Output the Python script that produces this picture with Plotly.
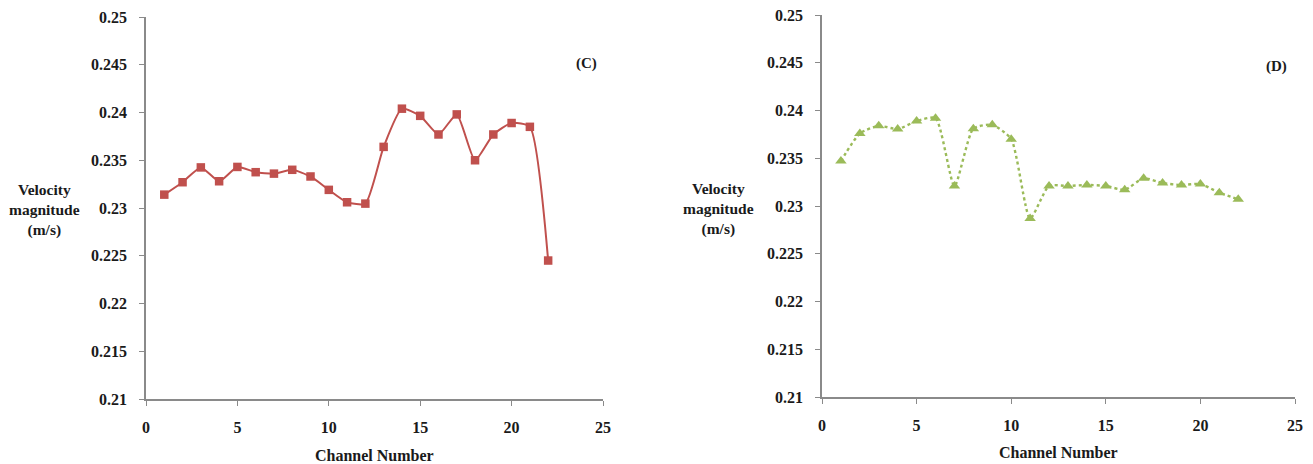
import plotly.graph_objects as go

channels = list(range(1, 23))
velocity_c = [0.2314, 0.2327, 0.23425, 0.2328, 0.2343, 0.23375, 0.2336, 0.2340, 0.2333,
              0.2319, 0.2306, 0.23046, 0.2364, 0.2404, 0.23965, 0.2377, 0.2398, 0.2350,
              0.2377, 0.2389, 0.2385, 0.2245]
velocity_d = [0.2347, 0.2376, 0.2384, 0.23805, 0.2389, 0.2392, 0.2321, 0.2381, 0.2385,
              0.2370, 0.2287, 0.2321, 0.2321, 0.2322, 0.2321, 0.2317, 0.2329, 0.2324,
              0.2322, 0.2323, 0.2314, 0.2307]
y_ticks = [0.21, 0.215, 0.22, 0.225, 0.23, 0.235, 0.24, 0.245, 0.25]
y_tick_labels = ["0.21", "0.215", "0.22", "0.225", "0.23", "0.235", "0.24", "0.245", "0.25"]
x_ticks = [0, 5, 10, 15, 20, 25]

FONT = "Liberation Serif"
TXT = "#1a1a1a"
AX = "#8a8a8a"

fig = go.Figure()
fig.add_trace(go.Scatter(
    x=channels, y=velocity_c, mode="lines+markers", xaxis="x", yaxis="y",
    line=dict(color="#C0504D", width=2, shape="spline", smoothing=0.55),
    marker=dict(symbol="square", size=8.5, color="#C0504D"),
    showlegend=False))
fig.add_trace(go.Scatter(
    x=channels, y=velocity_d, mode="lines+markers", xaxis="x2", yaxis="y2",
    line=dict(color="#9BBB59", width=2.4, dash="dot", shape="spline", smoothing=0.6),
    marker=dict(symbol="triangle-up", size=10, color="#9BBB59"),
    showlegend=False))

tickfont = dict(family=FONT, size=16, color=TXT, weight="bold")

def xax(domain, anchor):
    return dict(domain=domain, anchor=anchor, range=[0, 25], tickvals=x_ticks,
                showgrid=False, zeroline=False, showline=True, linecolor=AX, linewidth=1.6,
                ticks="outside", ticklen=5, tickcolor=AX, tickwidth=1.4,
                tickfont=tickfont, ticklabelstandoff=8, fixedrange=True, automargin=False)

def yax(domain, anchor):
    return dict(domain=domain, anchor=anchor, range=[0.21, 0.25], tickvals=y_ticks,
                ticktext=y_tick_labels,
                showgrid=False, zeroline=False, showline=True, linecolor=AX, linewidth=1.6,
                ticks="outside", ticklen=5, tickcolor=AX, tickwidth=1.4,
                tickfont=tickfont, ticklabelstandoff=9, fixedrange=True, automargin=False)

W, H = 1313, 464
fig.update_layout(
    width=W, height=H, autosize=False,
    margin=dict(l=0, r=0, t=0, b=0, pad=0, autoexpand=False),
    paper_bgcolor="white", plot_bgcolor="white",
    font=dict(family=FONT, color=TXT),
    xaxis=xax([146 / W, 603 / W], "y"),
    yaxis=yax([1 - 399 / H, 1 - 17 / H], "x"),
    xaxis2=xax([822 / W, 1295 / W], "y2"),
    yaxis2=yax([1 - 397 / H, 1 - 15 / H], "x2"),
)

def ann(text, x, y, size=16):
    fig.add_annotation(text=text, x=x / W, y=1 - y / H, xref="paper", yref="paper",
                       showarrow=False, xanchor="center", yanchor="middle",
                       font=dict(family=FONT, size=size, color=TXT, weight="bold"))

ann("Velocity<br>magnitude<br>(m/s)", 44, 210, 15.5)
ann("Velocity<br>magnitude<br>(m/s)", 718, 209, 15.5)
ann("Channel Number", 374, 455)
ann("Channel Number", 1058, 452)
ann("(C)", 586, 63, 15)
ann("(D)", 1276, 67, 15)

fig.write_html("out.html")
